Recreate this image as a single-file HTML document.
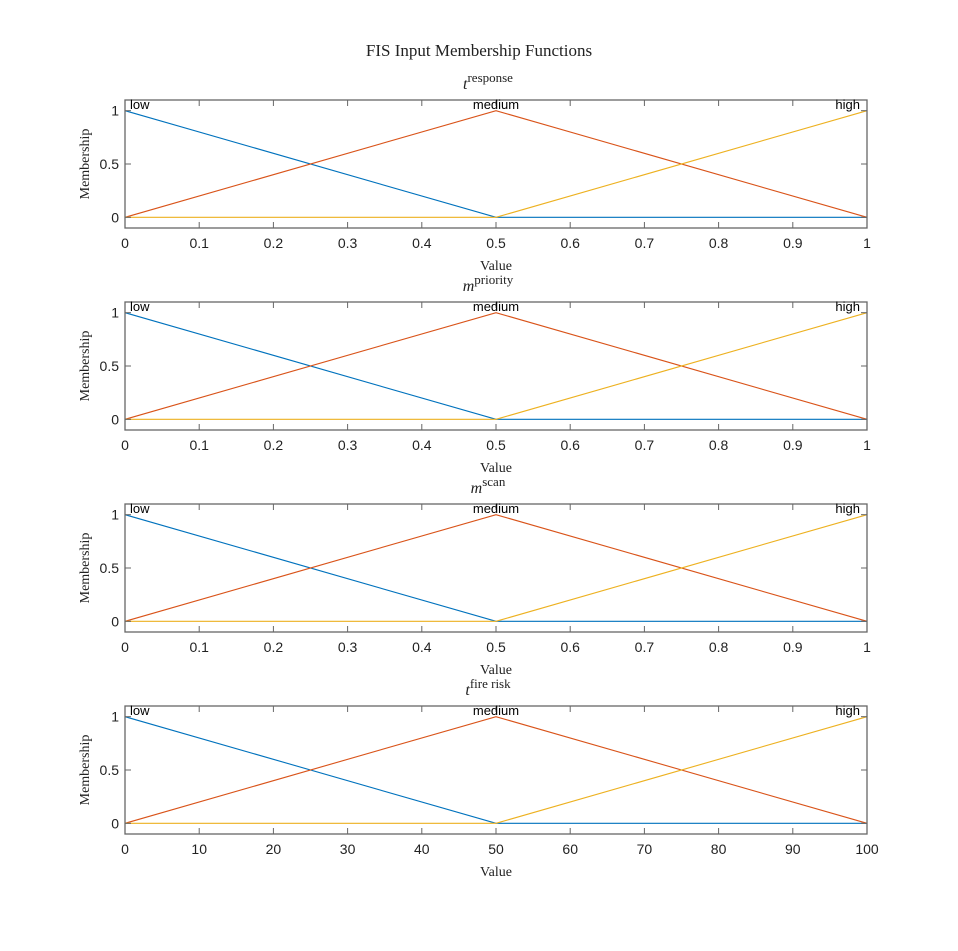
<!DOCTYPE html>
<html><head><meta charset="utf-8"><style>
body{margin:0;background:#fff;}
svg text{font-family:"Liberation Sans","DejaVu Sans",sans-serif;}
.serif{font-family:"Liberation Serif",serif !important;}
</style></head><body>
<svg id="fig" width="958" height="946" xmlns="http://www.w3.org/2000/svg">
<text class="serif" x="479" y="56" font-size="17" text-anchor="middle" fill="#222">FIS Input Membership Functions</text>
</svg>
<script>
const panelVars = ["t", "m", "m", "t"];
const panelSups = ["response", "priority", "scan", "fire risk"];
const panelMax = [1, 1, 1, 100];
const xTickLabels = [["0","0.1","0.2","0.3","0.4","0.5","0.6","0.7","0.8","0.9","1"],["0","0.1","0.2","0.3","0.4","0.5","0.6","0.7","0.8","0.9","1"],["0","0.1","0.2","0.3","0.4","0.5","0.6","0.7","0.8","0.9","1"],["0","10","20","30","40","50","60","70","80","90","100"]];
const yTicks = [0, 0.5, 1];
const yTickLabels = ["0", "0.5", "1"];
const mfNames = ["low", "medium", "high"];
const mfColors = ["#0072BD", "#D95319", "#EDB120"];
// membership functions as fraction-of-range x points and y values
const lowX = [0, 0.5, 1], lowY = [1, 0, 0];
const medX = [0, 0.5, 1], medY = [0, 1, 0];
const highX = [0, 0.5, 1], highY = [0, 0, 1];
const mfXs = [lowX, medX, highX], mfYs = [lowY, medY, highY];
const peakX = [0, 0.5, 1];

const NS = "http://www.w3.org/2000/svg";
const svg = document.getElementById("fig");
function mk(tag, attrs, parent) { const e = document.createElementNS(NS, tag); for (const k in attrs) e.setAttribute(k, attrs[k]); (parent || svg).appendChild(e); return e; }
const L = 125, R = 867, H = 128, tops = [100, 302, 504, 706];
for (let p = 0; p < 4; p++) {
  const T = tops[p];
  const g = mk("g", {});
  
  
  const max = panelMax[p];
  const xs = v => L + (v / max) * (R - L);
  const ys = v => T + (1.1 - v) / 1.2 * H;
  // title
  const tt = mk("text", {x: 488, y: T - 11, "font-size": 16, "text-anchor": "middle", fill: "#222", class: "serif"}, g);
  
  
  const t1 = mk("tspan", {"font-style": "italic", dy: 0}, tt); t1.textContent = panelVars[p];
  const t2 = mk("tspan", {"font-size": 13, dy: -7}, tt); t2.textContent = panelSups[p];
  // series
  for (let s = 0; s < 3; s++) {
    const pts = mfXs[s].map((fx, i) => xs(fx * max) + "," + ys(mfYs[s][i])).join(" ");
    const pl = mk("polyline", {points: pts, fill: "none", stroke: mfColors[s], "stroke-width": 1.1}, g);
    
    
  }
  // axes box
  const box = mk("rect", {x: L, y: T, width: R - L, height: H, fill: "none", stroke: "#666", "stroke-width": 1.3}, g);
  
  
  // x ticks
  xTickLabels[p].forEach((lab, i) => {
    const v = i * max / 10, x = xs(v);
    mk("line", {x1: x, x2: x, y1: T + H, y2: T + H - 6, stroke: "#666"}, g);
    mk("line", {x1: x, x2: x, y1: T, y2: T + 6, stroke: "#666"}, g);
    const t = mk("text", {x: x, y: T + H + 20, "font-size": 14, "text-anchor": "middle", fill: "#222"}, g);
    
    
    t.textContent = lab;
  });
  yTicks.forEach((v, i) => {
    const y = ys(v);
    mk("line", {x1: L, x2: L + 6, y1: y, y2: y, stroke: "#666"}, g);
    mk("line", {x1: R, x2: R - 6, y1: y, y2: y, stroke: "#666"}, g);
    const t = mk("text", {x: L - 6, y: y + 5, "font-size": 14, "text-anchor": "end", fill: "#222"}, g);
    
    
    t.textContent = yTickLabels[i];
  });
  // mf labels
  const anchors = ["start", "middle", "end"], offs = [5, 0, -7];
  for (let s = 0; s < 3; s++) {
    const t = mk("text", {x: xs(peakX[s] * max) + offs[s], y: T + 9, "font-size": 13, "text-anchor": anchors[s], fill: "#000"}, g);
    
    
    t.textContent = mfNames[s];
  }
  // axis labels
  const xl = mk("text", {x: 496, y: T + H + 42, "font-size": 14, "text-anchor": "middle", fill: "#222", class: "serif"}, g);
  
  
  xl.textContent = "Value";
  const yl = mk("text", {x: 0, y: 0, "font-size": 14, "text-anchor": "middle", fill: "#222", class: "serif", transform: "translate(89," + (T + H / 2) + ") rotate(-90)"}, g);
  
  
  yl.textContent = "Membership";
}
</script>
</body></html>
